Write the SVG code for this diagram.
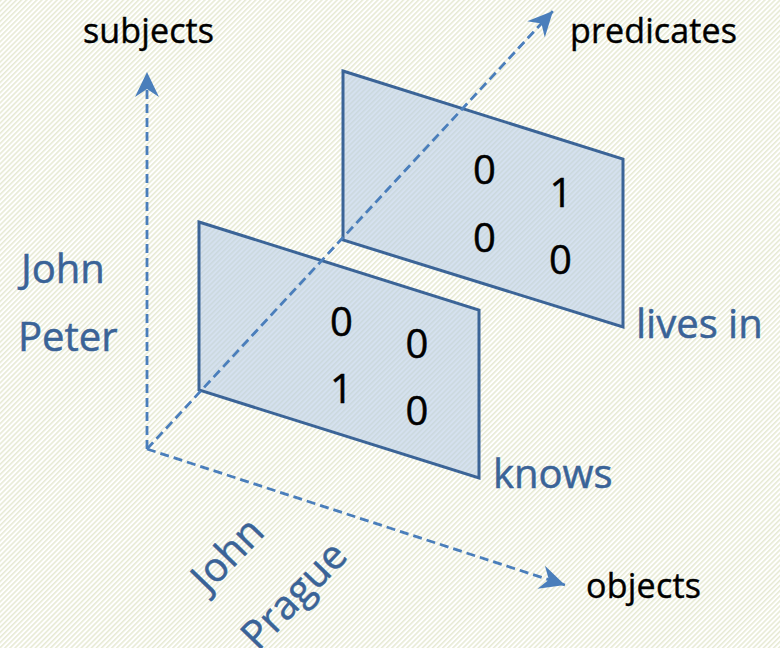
<svg xmlns="http://www.w3.org/2000/svg" width="780" height="648" viewBox="0 0 780 648">
  <defs>
    <!-- fine diagonal hatching used as the page background -->
    <pattern id="hatch" width="3.6" height="3.6" patternUnits="userSpaceOnUse" patternTransform="rotate(45)">
      <rect width="3.6" height="3.6" fill="#ffffff"/>
      <line x1="0.8" y1="0" x2="0.8" y2="3.6" stroke="#e6e9d3" stroke-width="1.5"/>
    </pattern>
    <marker id="head" markerWidth="30" markerHeight="30" refX="0" refY="0" viewBox="-27 -14 30 28" orient="auto" markerUnits="userSpaceOnUse">
      <path d="M0,0 L-25,-12 L-17,0 L-25,12 Z" fill="#4a7ebb"/>
    </marker>
    <style>
      .plane { fill: #b9cde4; fill-opacity: 0.6; stroke: #3b6497; stroke-width: 3; stroke-linejoin: miter; }
      .axis { fill: none; stroke: #4a7ebb; stroke-width: 2.8; stroke-dasharray: 9 5; marker-end: url(#head); }
      .lbl { font-family: "Open Sans", "Noto Sans", sans-serif; font-size: 34px; fill: #000000; stroke: #000000; stroke-width: 0.4; }
      .blue { font-family: "Open Sans", "Noto Sans", sans-serif; font-size: 40px; fill: #3a6397; stroke: #3a6397; stroke-width: 0.5; }
      .num { font-family: "Open Sans", "Noto Sans", sans-serif; font-size: 40px; fill: #000000; stroke: #000000; stroke-width: 0.5; text-anchor: middle; }
    </style>
  </defs>

  <rect width="780" height="648" fill="url(#hatch)"/>

  <!-- relation slice: lives in -->
  <g id="plane-lives-in">
    <polygon class="plane" points="343,71 623,159 623,327 343,240"/>
    <text class="num" x="484.5" y="184">0</text>
    <text class="num" x="561" y="207">1</text>
    <text class="num" x="484.5" y="252">0</text>
    <text class="num" x="560.5" y="274">0</text>
    <text class="blue" x="636" y="338">lives in</text>
  </g>

  <!-- relation slice: knows -->
  <g id="plane-knows">
    <polygon class="plane" points="199,222 479,310 479,478 199,390"/>
    <text class="num" x="341.5" y="336">0</text>
    <text class="num" x="417" y="358">0</text>
    <text class="num" x="341.5" y="403">1</text>
    <text class="num" x="417" y="425">0</text>
    <text class="blue" x="493" y="488">knows</text>
  </g>

  <!-- three dashed axes from a common origin -->
  <g id="axes">
    <line class="axis" x1="147" y1="449" x2="147" y2="72"/>
    <line class="axis" x1="147" y1="449" x2="553" y2="11"/>
    <line class="axis" x1="147" y1="449" x2="565" y2="585"/>
  </g>

  <g id="axis-labels">
    <text class="lbl" x="83" y="43" textLength="131">subjects</text>
    <text class="lbl" x="570" y="43" textLength="167">predicates</text>
    <text class="lbl" x="586" y="598" textLength="115">objects</text>
  </g>

  <g id="subject-values">
    <text class="blue" x="21" y="283">John</text>
    <text class="blue" x="18" y="351">Peter</text>
  </g>

  <g id="object-values">
    <text class="blue" transform="translate(208,594) rotate(-46)">John</text>
    <text class="blue" transform="translate(258,652) rotate(-46)">Prague</text>
  </g>
</svg>
